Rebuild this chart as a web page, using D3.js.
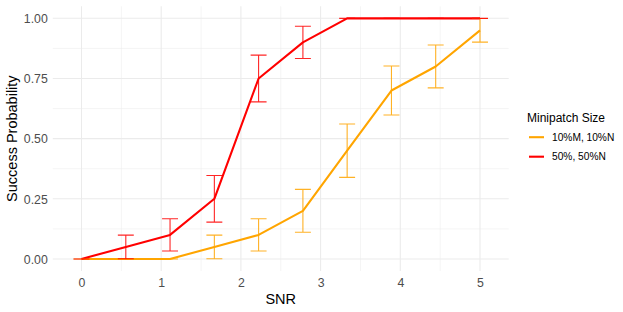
<!DOCTYPE html>
<html><head><meta charset="utf-8">
<script src="https://cdn.jsdelivr.net/npm/d3@7"></script>
<style>body{margin:0;background:#fff;} text{font-family:"Liberation Sans", Arial, sans-serif;}</style>
</head><body>
<svg id="c" width="623" height="312"></svg>
<script>
const snr = [0, 0.556, 1.111, 1.667, 2.222, 2.778, 3.333, 3.889, 4.444, 5];
const seriesNames = ["10%M, 10%N", "50%, 50%N"];
const seriesColors = ["#FFA500", "#FF0000"];
const smallVals = [0, 0, 0, 0.05, 0.10, 0.20, 0.45, 0.70, 0.80, 0.95];
const smallLo   = [0, 0, 0, 0.001, 0.033, 0.111, 0.339, 0.598, 0.711, 0.901];
const smallHi   = [0, 0, 0, 0.099, 0.167, 0.289, 0.561, 0.802, 0.889, 0.999];
const bigVals = [0, 0.05, 0.10, 0.25, 0.75, 0.90, 1, 1, 1, 1];
const bigLo   = [0, 0.001, 0.033, 0.153, 0.653, 0.833, 1, 1, 1, 1];
const bigHi   = [0, 0.099, 0.167, 0.347, 0.847, 0.967, 1, 1, 1, 1];
const xTicks = [0, 1, 2, 3, 4, 5];
const yTicks = [0, 0.25, 0.5, 0.75, 1];
const xMinor = [0.5, 1.5, 2.5, 3.5, 4.5];
const yMinor = [0.125, 0.375, 0.625, 0.875];

const series = [
  {name: seriesNames[0], color: seriesColors[0], v: smallVals, lo: smallLo, hi: smallHi},
  {name: seriesNames[1], color: seriesColors[1], v: bigVals, lo: bigLo, hi: bigHi}
];

const svg = d3.select("#c");
const x = d3.scaleLinear().domain([-0.36, 5.36]).range([52.8, 508.7]);
const y = d3.scaleLinear().domain([-0.05, 1.05]).range([271, 6.3]);
const capW = 0.1;

const g = svg.append("g");
// grid
g.selectAll(".xm").data(xMinor).join("line").attr("x1", d=>x(d)).attr("x2", d=>x(d))
  .attr("y1", y.range()[0]).attr("y2", y.range()[1]).attr("stroke", "#EBEBEB").attr("stroke-width", 0.55);
g.selectAll(".ym").data(yMinor).join("line").attr("y1", d=>y(d)).attr("y2", d=>y(d))
  .attr("x1", x.range()[0]).attr("x2", x.range()[1]).attr("stroke", "#EBEBEB").attr("stroke-width", 0.55);
g.selectAll(".xg").data(xTicks).join("line").attr("x1", d=>x(d)).attr("x2", d=>x(d))
  .attr("y1", y.range()[0]).attr("y2", y.range()[1]).attr("stroke", "#EBEBEB").attr("stroke-width", 1.07);
g.selectAll(".yg").data(yTicks).join("line").attr("y1", d=>y(d)).attr("y2", d=>y(d))
  .attr("x1", x.range()[0]).attr("x2", x.range()[1]).attr("stroke", "#EBEBEB").attr("stroke-width", 1.07);

// lines
const line = d3.line().x((d,i)=>x(snr[i])).y(d=>y(d));
series.forEach(s => {
  g.append("path").datum(s.v).attr("d", line).attr("fill", "none")
    .attr("stroke", s.color).attr("stroke-width", 2.1).attr("stroke-linejoin", "round");
});
// error bars
series.forEach(s => {
  const eb = g.append("g").attr("stroke", s.color).attr("stroke-width", 1.1).attr("opacity", 0.85).attr("fill", "none");
  snr.forEach((sx, i) => {
    const p = d3.path();
    p.moveTo(x(sx - capW), y(s.hi[i])); p.lineTo(x(sx + capW), y(s.hi[i]));
    p.moveTo(x(sx), y(s.hi[i])); p.lineTo(x(sx), y(s.lo[i]));
    p.moveTo(x(sx - capW), y(s.lo[i])); p.lineTo(x(sx + capW), y(s.lo[i]));
    eb.append("path").attr("d", p.toString());
  });
});

// axes
const xAxis = d3.axisBottom(x).tickValues(xTicks).tickSize(0).tickPadding(0).tickFormat(d3.format("d"));
const xa = svg.append("g").attr("transform", "translate(0,286.5)").call(xAxis);
xa.select(".domain").remove();
xa.selectAll("text").attr("dy", 0).attr("y", 0).attr("fill", "#4D4D4D").attr("font-size", "12.3px");
const yAxis = d3.axisLeft(y).tickValues(yTicks).tickSize(0).tickPadding(0).tickFormat(d3.format(".2f"));
const ya = svg.append("g").attr("transform", "translate(47.8,0)").call(yAxis);
ya.select(".domain").remove();
ya.selectAll("text").attr("x", 0).attr("dy", "0.35em").attr("fill", "#4D4D4D").attr("font-size", "12.3px");

svg.append("text").attr("x", x(2.5)).attr("y", 304).attr("text-anchor", "middle")
  .attr("font-size", "14.5px").attr("fill", "#000").text("SNR");
svg.append("text").attr("transform", `translate(16.5,${y(0.5)}) rotate(-90)`).attr("text-anchor", "middle")
  .attr("font-size", "14.5px").attr("fill", "#000").text("Success Probability");

// legend
const lg = svg.append("g");
lg.append("text").attr("x", 527).attr("y", 121.5).attr("font-size", "12px").attr("fill", "#000").text("Minipatch Size");
series.forEach((s, i) => {
  const yy = 137.2 + i * 19.5;
  lg.append("line").attr("x1", 529).attr("x2", 544).attr("y1", yy).attr("y2", yy)
    .attr("stroke", s.color).attr("stroke-width", 2.1);
  lg.append("text").attr("x", 552).attr("y", yy + 3.7).attr("font-size", "10.2px").attr("fill", "#000").text(s.name);
});
</script>
</body></html>
